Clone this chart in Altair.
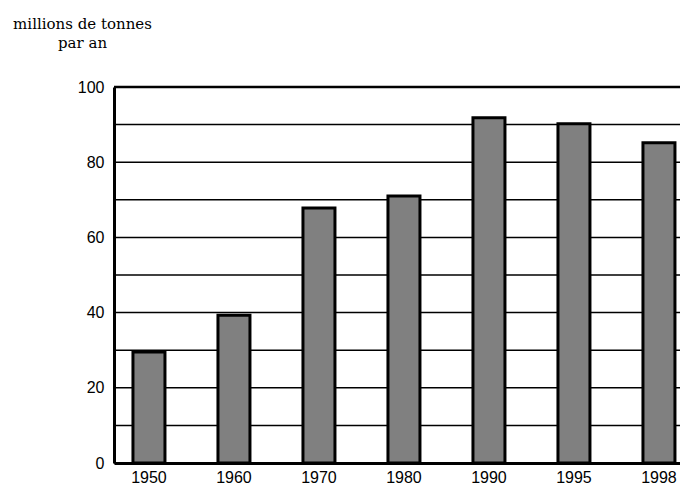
import altair as alt
import pandas as pd

years = ["1950", "1960", "1970", "1980", "1990", "1995", "1998"]
values = [29.5, 39.3, 67.8, 71.0, 91.8, 90.2, 85.2]
y_ticks = [0, 10, 20, 30, 40, 50, 60, 70, 80, 90, 100]
y_labels = [0, 20, 40, 60, 80, 100]
title_lines = ["millions de tonnes", "par an"]

df = pd.DataFrame({"year": years, "value": values})
grid_df = pd.DataFrame({"g": y_ticks})

y_scale = alt.Scale(domain=[0, 100], nice=False)

x = alt.X(
    "year:N",
    sort=years,
    scale=alt.Scale(paddingInner=0.6235, paddingOuter=0.1412, align=0.79),
    axis=alt.Axis(
        title=None, labelAngle=0, ticks=False, domainWidth=3, domainColor="black",
        labelFont="Liberation Sans", labelFontSize=16, labelColor="black",
        labelPadding=6, grid=False,
    ),
)
y = alt.Y(
    "value:Q",
    scale=y_scale,
    axis=alt.Axis(
        values=y_labels,
        title=title_lines, titleAngle=0, titleAlign="center", titleBaseline="top",
        titleX=-32, titleY=-71, titleFont="DejaVu Serif", titleFontSize=15,
        titleFontWeight="normal", titleColor="black", titleLineHeight=19,
        ticks=False, domainWidth=3, domainColor="black",
        labelFont="Liberation Sans", labelFontSize=16, labelColor="black",
        labelPadding=10, grid=False,
    ),
)

grid = alt.Chart(grid_df).mark_rule(color="black").encode(
    y=alt.Y("g:Q", scale=y_scale, axis=None),
    strokeWidth=alt.condition("datum.g == 100", alt.value(2.5), alt.value(1.5)),
)

bars = alt.Chart(df).mark_bar(
    fill="#808080", stroke="black", strokeWidth=3, opacity=1
).encode(x=x, y=y)

chart = alt.layer(grid, bars).resolve_axis(y="independent").properties(
    width=566, height=376,
    autosize=alt.AutoSizeParams(type="none"),
    padding={"left": 106, "top": 79, "right": 0, "bottom": 24},
).configure_view(stroke=None).configure(background="white")

chart.save("out.html", embed_options={"renderer": "svg", "actions": False})
